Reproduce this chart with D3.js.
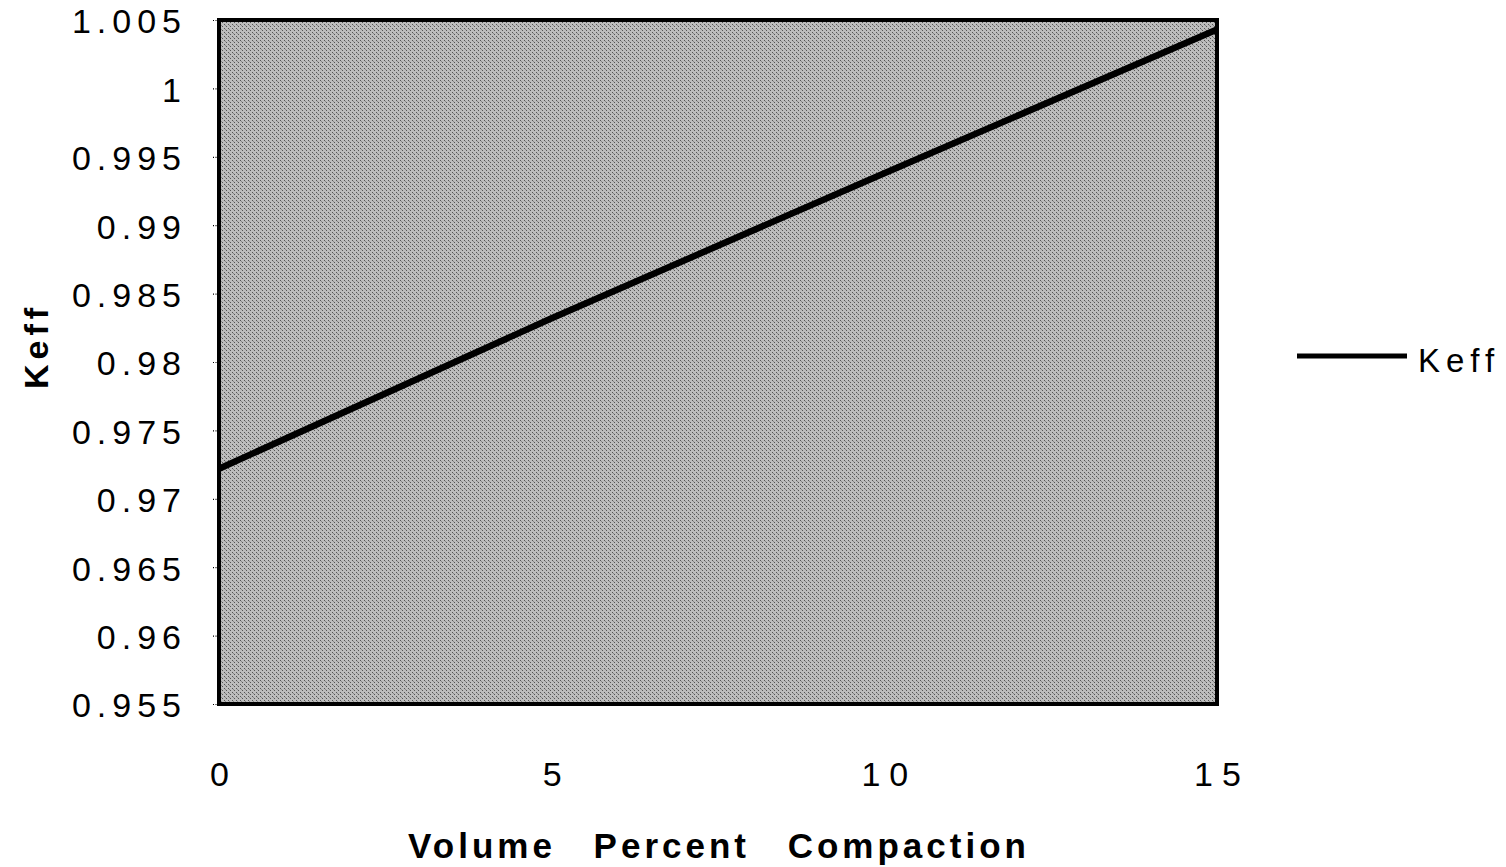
<!DOCTYPE html>
<html>
<head>
<meta charset="utf-8">
<script src="https://cdn.jsdelivr.net/npm/d3@7"></script>
<style>
  html, body { margin: 0; padding: 0; background: #fff; }
  svg { display: block; }
  text { font-family: "Liberation Sans", Arial, Helvetica, sans-serif; fill: #000; }
</style>
</head>
<body>
<svg id="chart" width="1506" height="867"></svg>
<script>
// ---- data ----
const compaction = [0, 5, 10, 15];                 // Volume Percent Compaction
const keff = [0.9722, 0.9832, 0.9938, 1.0043];     // Keff series
const yTicks = [0.955, 0.96, 0.965, 0.97, 0.975, 0.98, 0.985, 0.99, 0.995, 1, 1.005];
const yTickLabels = ["0.955","0.96","0.965","0.97","0.975","0.98","0.985","0.99","0.995","1","1.005"];
const xTicks = [0, 5, 10, 15];
const xTickLabels = ["0", "5", "10", "15"];
const seriesName = "Keff";
const xTitle = "Volume Percent Compaction";
const yTitle = "Keff";

// ---- layout ----
const svg = d3.select("#chart");
const plot = { left: 219, top: 20, right: 1217, bottom: 704 };

const x = d3.scaleLinear().domain([0, 15]).range([plot.left, plot.right]);
const y = d3.scaleLinear().domain([0.955, 1.005]).range([plot.bottom, plot.top]);

// plot background (textured gray)
const defs = svg.append("defs");
const pat = defs.append("pattern").attr("id", "dither")
  .attr("patternUnits", "userSpaceOnUse").attr("width", 4).attr("height", 4);
pat.append("rect").attr("width", 4).attr("height", 4).attr("fill", "#bdbdbd");
pat.append("rect").attr("x", 0).attr("y", 0).attr("width", 1).attr("height", 1).attr("fill", "#555");
pat.append("rect").attr("x", 2).attr("y", 2).attr("width", 1).attr("height", 1).attr("fill", "#555");
pat.append("rect").attr("x", 1).attr("y", 1).attr("width", 1).attr("height", 1).attr("fill", "#8a8a8a");

svg.append("rect")
  .attr("x", plot.left).attr("y", plot.top)
  .attr("width", plot.right - plot.left).attr("height", plot.bottom - plot.top)
  .attr("fill", "url(#dither)");

// y axis ticks and labels
const yAxis = d3.axisLeft(y).tickValues(yTicks)
  .tickFormat((d, i) => yTickLabels[i]).tickSize(6).tickPadding(26);
const gy = svg.append("g").attr("transform", `translate(${plot.left},0)`).call(yAxis);
gy.select(".domain").remove();
gy.selectAll(".tick line").attr("stroke", "#000").attr("stroke-width", 1.2).attr("stroke-dasharray", "1,1.5");
gy.selectAll(".tick text")
  .attr("font-size", 34).attr("letter-spacing", "6px")
  .attr("dy", "0.38em").style("fill", "#000");

// x axis labels
const xAxis = d3.axisBottom(x).tickValues(xTicks)
  .tickFormat((d, i) => xTickLabels[i]).tickSize(0).tickPadding(58);
const gx = svg.append("g").attr("transform", `translate(0,${plot.bottom})`).call(xAxis);
gx.select(".domain").remove();
gx.selectAll(".tick text")
  .attr("font-size", 34).attr("letter-spacing", "9px").attr("dx", "4.5px").style("fill", "#000");

// series line
const line = d3.line().x((d, i) => x(compaction[i])).y(d => y(d));
svg.append("path")
  .datum(keff)
  .attr("d", line)
  .attr("fill", "none")
  .attr("stroke", "#000")
  .attr("stroke-width", 6.5);

// plot border
svg.append("rect")
  .attr("x", plot.left).attr("y", plot.top)
  .attr("width", plot.right - plot.left).attr("height", plot.bottom - plot.top)
  .attr("fill", "none").attr("stroke", "#000").attr("stroke-width", 4);

// axis titles
svg.append("text")
  .attr("x", 719).attr("y", 858)
  .attr("text-anchor", "middle")
  .attr("font-size", 35).attr("font-weight", "bold")
  .attr("letter-spacing", "4px").attr("word-spacing", "24px")
  .text(xTitle);

svg.append("text")
  .attr("transform", "translate(48,346) rotate(-90)")
  .attr("text-anchor", "middle")
  .attr("font-size", 34).attr("font-weight", "bold")
  .attr("letter-spacing", "5px")
  .text(yTitle);

// legend
const lg = svg.append("g").attr("class", "legend");
lg.append("line")
  .attr("x1", 1297).attr("x2", 1407).attr("y1", 356).attr("y2", 356)
  .attr("stroke", "#000").attr("stroke-width", 5);
lg.append("text")
  .attr("x", 1418).attr("y", 372)
  .attr("font-size", 33).attr("letter-spacing", "6px")
  .text(seriesName);
</script>
</body>
</html>
